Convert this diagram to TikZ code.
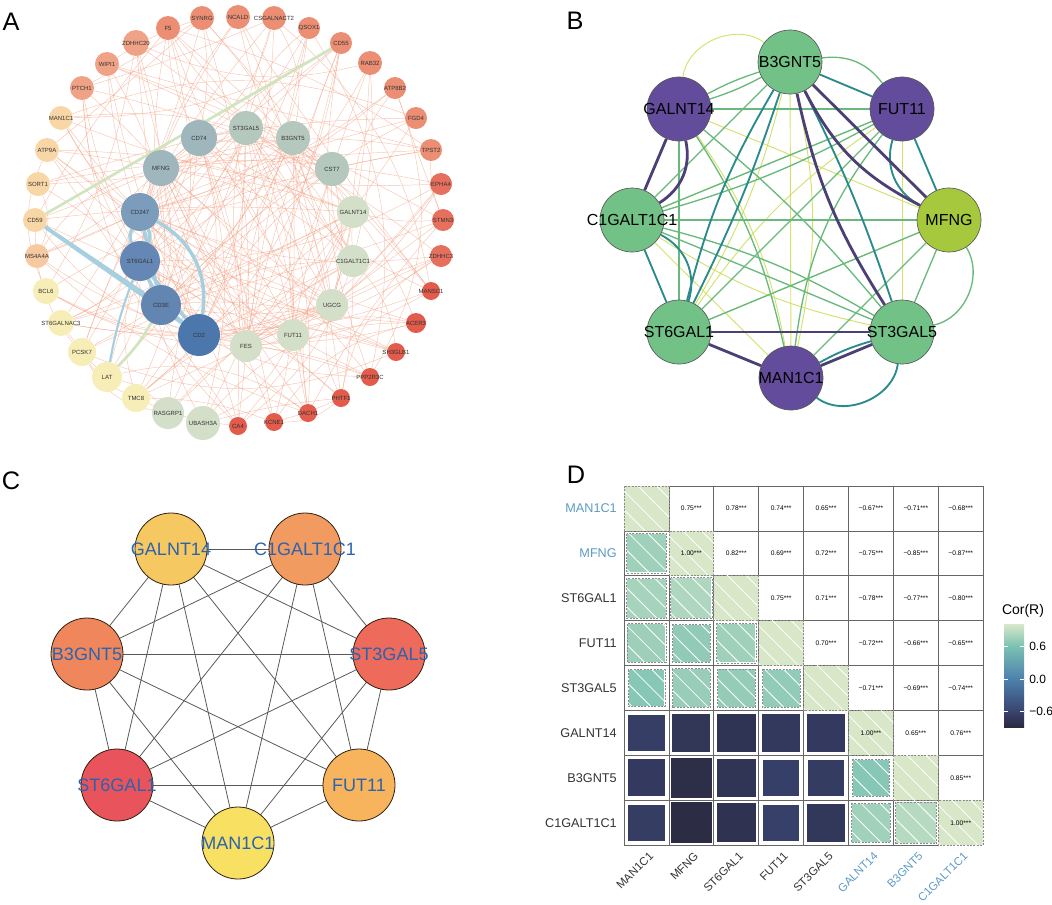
\documentclass[tikz,border=0pt]{standalone}
\usepackage{fontspec}
\setmainfont{Liberation Sans}
\usetikzlibrary{patterns.meta}
\pgfdeclarelayer{edgelayer}
\pgfsetlayers{edgelayer,main}
% panel A colours
\definecolor{oS}{HTML}{EC8E73}
\definecolor{oS2}{HTML}{F0A286}
\definecolor{oR}{HTML}{E6705D}
\definecolor{oR2}{HTML}{E25B4B}
\definecolor{oO}{HTML}{F8D6A5}
\definecolor{oO2}{HTML}{F6C9A0}
\definecolor{oY}{HTML}{F7EDB6}
\definecolor{sage}{HTML}{D3DFC8}
\definecolor{sage2}{HTML}{B4C8BD}
\definecolor{gblue}{HTML}{9EB6BC}
\definecolor{blA}{HTML}{7C9CBC}
\definecolor{blB}{HTML}{6587B5}
\definecolor{blC}{HTML}{6385B2}
\definecolor{blD}{HTML}{4C77AD}
\definecolor{oedgec}{HTML}{F2A184}
\definecolor{thickblue}{HTML}{A6CFDF}
\definecolor{thickgreen}{HTML}{CFE5BD}
% panel B colours
\definecolor{bgreen}{HTML}{72C287}
\definecolor{bpurple}{HTML}{634C9C}
\definecolor{blime}{HTML}{A6C83C}
\definecolor{ePc}{HTML}{4B3F75}
\definecolor{eTc}{HTML}{2A8A8C}
\definecolor{eGc}{HTML}{67BA7C}
\definecolor{eYc}{HTML}{D5E06A}
% panel C colours
\definecolor{cGA}{HTML}{F6C862}
\definecolor{cC1}{HTML}{F19B60}
\definecolor{cB3}{HTML}{F0875C}
\definecolor{cS3}{HTML}{EE6A5A}
\definecolor{cS6}{HTML}{E8535C}
\definecolor{cFU}{HTML}{F7B45C}
\definecolor{cMA}{HTML}{F8E062}
\definecolor{ctext}{HTML}{2B63AE}
% panel D colours
\definecolor{dpale}{HTML}{D9E7C9}
\definecolor{dposA}{HTML}{7CC2B2}
\definecolor{dposB}{HTML}{D9E8C9}
\definecolor{dnegA}{HTML}{394470}
\definecolor{dnegB}{HTML}{2A2940}
\definecolor{dzero}{HTML}{4D80AC}
\definecolor{dblue}{HTML}{5B9BC4}
\definecolor{dgray}{HTML}{333333}
\newcommand{\zb}[1]{\makebox[0pt]{#1}}
\tikzset{
  plabel/.style={font=\fontsize{19}{19}\selectfont, inner sep=0pt},
  anode/.style={circle, inner sep=0pt, text=black!80, font=\fontsize{4.5}{5}\selectfont},
  oedge/.style={draw=oedgec, line width=0.35pt, opacity=0.6},
  tblue/.style={draw=thickblue, line width=2.6pt},
  tgreen/.style={draw=thickgreen, line width=2pt},
  bnode/.style={circle, draw=black!65, line width=0.5pt, minimum size=48pt, inner sep=0pt, font=\fontsize{12}{13}\selectfont},
  eP/.style={draw=ePc, line width=2.1pt},
  eT/.style={draw=eTc, line width=1.4pt},
  eG/.style={draw=eGc, line width=1pt},
  eY/.style={draw=eYc, line width=0.7pt},
  cnode/.style={circle, draw=black!75!brown, line width=0.6pt, minimum size=54pt, inner sep=0pt, text=ctext, font=\fontsize{13.5}{14}\selectfont},
  cedge/.style={draw=black!65, line width=0.6pt},
  dcell/.style={draw=black!60, line width=0.5pt},
  ddash/.style={draw=black!45, line width=0.5pt, dash pattern=on 1.5pt off 1pt},
  dtxt/.style={font=\fontsize{5}{5}\selectfont, inner sep=0pt},
  dlab/.style={font=\fontsize{9.5}{10}\selectfont, inner sep=0pt},
}
\begin{document}
\begin{tikzpicture}[x=0.75pt,y=-0.75pt]
\useasboundingbox (0,0) rectangle (1052,904);

% ---------------- Panel labels ----------------
\node[plabel] (labA) at (11,22) {A};
\node[plabel] (labB) at (575,21) {B};
\node[plabel] (labC) at (11,481) {C};
\node[plabel] (labD) at (576,475) {D};

% ---------------- Panel A ----------------
\foreach \k/\nx/\ny/\nr/\nc/\nt in {
 1/202/18/12/oS/SYNRG, 2/238/17/12/oS/NCALD, 3/274/18/12/oS/CSGALNACT2, 4/309/28/11/oS/QSOX1,
 5/341/43/11/oS/CD55, 6/370/63/12/oS/RAB32, 7/395/88/11/oS/ATP8B2, 8/416/118/11/oS/FGD4,
 9/431/150/11/oS/TPST2, 10/441/184/11/oR/EPHA4, 11/443/220/11/oR/STMN3, 12/441/256/11/oR/ZDHHC3,
 13/431/291/9/oR2/MANSC1, 14/416/323/10/oR2/ACER3, 15/396/352/9/oR2/SH3GLB1, 16/370/377/9/oR2/PPP2R3C,
 17/341/398/9/oR2/PHTF1, 18/308/413/9/oR2/DACH1, 19/274/422/9/oR2/KCNE1, 20/238/426/9/oR2/CA4,
 21/203/423/17/sage/UBASH3A, 22/168/413/16/sage/RASGRP1, 23/136/398/14/oY/TMC8, 24/107/377/15/oY/LAT,
 25/82/352/14/oY/PCSK7, 26/61/323/13/oY/ST6GALNAC3, 27/46/291/13/oY/BCL6, 28/37/256/12/oO2/MS4A4A,
 29/35/220/12/oO/CD59, 30/38/184/12/oO/SORT1, 31/47/150/12/oO/ATP9A, 32/61/118/12/oO/MAN1C1,
 33/82/88/12/oS2/PTCH1, 34/107/64/12/oS2/WIPI1, 35/136/43/13/oS2/ZDHHC20, 36/168/28/12/oS/F5}{
  \node[anode, minimum size=1.5*\nr pt, fill=\nc] (o\k) at (\nx,\ny) {\zb{\nt}};
}
\foreach \k/\nx/\ny/\nr/\nc/\nt in {
 1/199/138/18/gblue/CD74, 2/246/128/17/sage2/ST3GAL5, 3/293/138/17/sage2/B3GNT5, 4/332/169/17/sage2/CST7,
 5/353/212/16/sage/GALNT14, 6/353/261/16/sage/C1GALT1C1, 7/332/305/16/sage/UGCG, 8/293/335/16/sage/FUT11,
 9/246/346/16/sage/FES, 10/199/335/21/blD/CD2, 11/161/305/20/blC/CD3E, 12/140/261/20/blB/ST6GAL1,
 13/140/212/19/blA/CD247, 14/161/168/18/gblue/MFNG}{
  \node[anode, minimum size=1.5*\nr pt, fill=\nc] (i\k) at (\nx,\ny) {\zb{\nt}};
}
\begin{pgfonlayer}{edgelayer}
\pgfmathsetseed{4242}
\foreach \k in {1,...,36}{
  \foreach \m in {1,2,3}{
    \pgfmathtruncatemacro\jj{random(1,14)}
    \pgfmathtruncatemacro\bb{random(0,40)-20}
    \draw[oedge] (o\k) to[bend left=\bb] (i\jj);
  }
  \foreach \m in {1,2}{
    \pgfmathtruncatemacro\jj{random(1,36)}
    \pgfmathtruncatemacro\bb{random(0,50)-25}
    \ifnum\jj=\k\else\draw[oedge] (o\k) to[bend left=\bb] (o\jj);\fi
  }
}
\foreach \p in {1,...,14}{
  \foreach \q in {1,...,14}{
    \ifnum\p<\q
      \pgfmathtruncatemacro\zz{random(0,2)}
      \pgfmathtruncatemacro\bb{random(0,30)-15}
      \ifnum\zz>0\draw[oedge] (i\p) to[bend left=\bb] (i\q);\fi
    \fi
  }
}
\draw[tgreen] (o5) -- (o29);
\draw[tgreen] (o24) to[bend right=8] (i11);
\draw[tblue] (i13) to[bend left=25] (i12);
\draw[tblue] (i13) to[bend right=25] (i12);
\draw[tblue] (i13) -- (i11);
\draw[tblue] (i13) to[bend left=35] (i10);
\draw[tblue] (i12) -- (i11);
\draw[tblue] (i12) -- (i10);
\draw[tblue] (i11) -- (i10);
\draw[tblue] (o29) -- (i11);
\draw[tblue] (o29) -- (i10);
\draw[tblue, line width=1.6pt] (o24) to[bend left=5] (i12);
\end{pgfonlayer}

% ---------------- Panel B ----------------
\node[bnode, fill=bgreen] (bB3) at (790,62) {\zb{B3GNT5}};
\node[bnode, fill=bpurple] (bGA) at (679,109) {\zb{GALNT14}};
\node[bnode, fill=bpurple] (bFU) at (902,109) {\zb{FUT11}};
\node[bnode, fill=bgreen] (bC1) at (632,220) {\zb{C1GALT1C1}};
\node[bnode, fill=blime] (bMF) at (949,220) {\zb{MFNG}};
\node[bnode, fill=bgreen] (bS6) at (679,332) {\zb{ST6GAL1}};
\node[bnode, fill=bgreen] (bS3) at (902,332) {\zb{ST3GAL5}};
\node[bnode, fill=bpurple] (bMA) at (791,378) {\zb{MAN1C1}};
\begin{pgfonlayer}{edgelayer}
\draw[eY] (bGA) to[bend left=60] (bB3);
\draw[eY] (bB3) -- (bMA);
\draw[eY] (bFU) -- (bS3);
\draw[eY] (bC1) -- (bMA);
\draw[eY] (bGA) -- (bMF);
\draw[eY] (bC1) -- (bFU);
\draw[eY] (bB3) to[bend left=12] (bMA);
\draw[eY] (bS6) -- (bMF);
\draw[eY] (bGA) to[bend left=12] (bMA);
\draw[eY] (bS6) to[bend right=8] (bB3);
\draw[eY] (bC1) to[bend right=10] (bS3);
\draw[eY] (bS6) to[bend left=10] (bFU);
\draw[eG] (bGA) to[bend left=5] (bB3);
\draw[eG] (bGA) to[bend right=5] (bB3);
\draw[eG] (bGA) -- (bFU);
\draw[eG] (bGA) -- (bS6);
\draw[eG] (bGA) to[bend left=5] (bS3);
\draw[eG] (bB3) to[bend left=30] (bFU);
\draw[eG] (bB3) -- (bC1);
\draw[eG] (bFU) -- (bC1);
\draw[eG] (bFU) to[bend left=6] (bC1);
\draw[eG] (bFU) -- (bS6);
\draw[eG] (bFU) to[bend right=15] (bMA);
\draw[eG] (bC1) -- (bS3);
\draw[eG] (bC1) to[bend left=8] (bS3);
\draw[eG] (bMF) -- (bS3);
\draw[eG] (bMF) to[bend left=55] (bS3);
\draw[eG] (bMF) -- (bS6);
\draw[eG] (bMF) -- (bMA);
\draw[eG] (bGA) to[bend left=10] (bMA);
\draw[eG] (bC1) -- (bMF);
\draw[eT] (bB3) -- (bFU);
\draw[eT] (bB3) to[bend right=8] (bS6);
\draw[eT] (bB3) to[bend left=4] (bS6);
\draw[eT] (bFU) -- (bMF);
\draw[eT] (bFU) to[bend right=40] (bMF);
\draw[eT] (bC1) -- (bS6);
\draw[eT] (bC1) to[bend left=40] (bS6);
\draw[eT] (bMA) to[bend right=60] (bS3);
\draw[eT] (bMA) to[bend left=6] (bS3);
\draw[eT] (bB3) to[bend left=4] (bS3);
\draw[eP] (bGA) -- (bC1);
\draw[eP] (bGA) to[bend left=35] (bC1);
\draw[eP] (bB3) -- (bMF);
\draw[eP] (bB3) to[bend right=18] (bMF);
\draw[eP] (bB3) to[bend right=10] (bS3);
\draw[eP] (bS6) -- (bS3);
\draw[eP] (bS6) -- (bMA);
\draw[eP] (bMA) -- (bS3);
\end{pgfonlayer}

% ---------------- Panel C ----------------
\node[cnode, fill=cGA] (cGAn) at (171,549) {\zb{GALNT14}};
\node[cnode, fill=cC1] (cC1n) at (305,549) {\zb{C1GALT1C1}};
\node[cnode, fill=cB3] (cB3n) at (87,654) {\zb{B3GNT5}};
\node[cnode, fill=cS3] (cS3n) at (389,654) {\zb{ST3GAL5}};
\node[cnode, fill=cS6] (cS6n) at (117,785) {\zb{ST6GAL1}};
\node[cnode, fill=cFU] (cFUn) at (359,785) {\zb{FUT11}};
\node[cnode, fill=cMA] (cMAn) at (238,843) {\zb{MAN1C1}};
\begin{pgfonlayer}{edgelayer}
\foreach \ea/\eb in {cGAn/cC1n, cGAn/cB3n, cGAn/cS3n, cGAn/cS6n, cGAn/cFUn, cGAn/cMAn,
  cC1n/cB3n, cC1n/cS3n, cC1n/cS6n, cC1n/cFUn, cC1n/cMAn,
  cB3n/cS3n, cB3n/cS6n, cB3n/cFUn, cB3n/cMAn,
  cS3n/cS6n, cS3n/cFUn, cS3n/cMAn, cS6n/cFUn, cS6n/cMAn, cFUn/cMAn}{
  \draw[cedge] (\ea.center) -- (\eb.center);
}
\end{pgfonlayer}

% ---------------- Panel D ----------------
\def\cw{44.9}
\foreach \i in {1,...,8}{
  \foreach \j in {1,...,8}{
    \pgfmathsetmacro\xa{624+(\j-1)*\cw}
    \pgfmathsetmacro\ya{486+(\i-1)*\cw}
    \ifnum\i=\j\else\draw[dcell, fill=white] (\xa,\ya) rectangle ++(\cw,\cw);\fi
  }
}
\foreach \i in {1,...,8}{
  \pgfmathsetmacro\xa{624+(\i-1)*\cw}
  \pgfmathsetmacro\ya{486+(\i-1)*\cw}
  \fill[dpale] (\xa,\ya) rectangle ++(\cw,\cw);
  \fill[pattern={Lines[angle=-45,distance=10pt,line width=0.6pt]}, pattern color=white] (\xa,\ya) rectangle ++(\cw,\cw);
  \draw[ddash] (\xa,\ya) rectangle ++(\cw,\cw);
}
\foreach \i/\j/\v in {2/1/0.75, 3/1/0.78, 3/2/0.82, 4/1/0.74, 4/2/0.69, 4/3/0.75,
  5/1/0.65, 5/2/0.72, 5/3/0.71, 5/4/0.70,
  6/1/-0.67, 6/2/-0.75, 6/3/-0.78, 6/4/-0.72, 6/5/-0.71,
  7/1/-0.71, 7/2/-0.85, 7/3/-0.77, 7/4/-0.66, 7/5/-0.69, 7/6/0.65,
  8/1/-0.68, 8/2/-0.87, 8/3/-0.80, 8/4/-0.65, 8/5/-0.74, 8/6/0.76, 8/7/0.85}{
  \pgfmathsetmacro\cx{624+(\j-0.5)*\cw}
  \pgfmathsetmacro\cy{486+(\i-0.5)*\cw}
  \pgfmathsetmacro\hs{0.5*\cw*min(1,0.5+0.55*abs(\v))-0.8}
  \ifdim\v pt>0pt
    \pgfmathtruncatemacro\tmix{max(0,min(100,(\v-0.6)/0.4*100))}
    \colorlet{cc}{dposB!\tmix!dposA}
    \fill[cc] (\cx-\hs,\cy-\hs) rectangle (\cx+\hs,\cy+\hs);
    \fill[pattern={Lines[angle=-45,distance=10pt,line width=0.6pt]}, pattern color=white] (\cx-\hs,\cy-\hs) rectangle (\cx+\hs,\cy+\hs);
    \draw[white, line width=0.9pt] (\cx-\hs,\cy-\hs) rectangle (\cx+\hs,\cy+\hs);
    \draw[ddash] (\cx-\hs,\cy-\hs) rectangle (\cx+\hs,\cy+\hs);
  \else
    \pgfmathtruncatemacro\tmix{max(0,min(100,(abs(\v)-0.6)/0.3*100))}
    \colorlet{cc}{dnegB!\tmix!dnegA}
    \fill[cc] (\cx-\hs,\cy-\hs) rectangle (\cx+\hs,\cy+\hs);
    \draw[white, line width=0.9pt] (\cx-\hs,\cy-\hs) rectangle (\cx+\hs,\cy+\hs);
  \fi
}
\foreach \i/\j/\s in {1/2/0.75***, 1/3/0.78***, 1/4/0.74***, 1/5/0.65***, 1/6/−0.67***, 1/7/−0.71***, 1/8/−0.68***,
  2/2/1.00***, 2/3/0.82***, 2/4/0.69***, 2/5/0.72***, 2/6/−0.75***, 2/7/−0.85***, 2/8/−0.87***,
  3/4/0.75***, 3/5/0.71***, 3/6/−0.78***, 3/7/−0.77***, 3/8/−0.80***,
  4/5/0.70***, 4/6/−0.72***, 4/7/−0.66***, 4/8/−0.65***,
  5/6/−0.71***, 5/7/−0.69***, 5/8/−0.74***,
  6/6/1.00***, 6/7/0.65***, 6/8/0.76***,
  7/8/0.85***, 8/8/1.00***}{
  \node[dtxt] (v\i\j) at ({624+(\j-0.5)*\cw},{486+(\i-0.5)*\cw}) {\s};
}
\foreach \i/\t/\cl in {1/MAN1C1/dblue, 2/MFNG/dblue, 3/ST6GAL1/dgray, 4/FUT11/dgray, 5/ST3GAL5/dgray,
  6/GALNT14/dgray, 7/B3GNT5/dgray, 8/C1GALT1C1/dgray}{
  \node[dlab, anchor=east, text=\cl] (row\i) at (617,{486+(\i-0.5)*\cw}) {\t};
}
\foreach \i/\t/\cl in {1/MAN1C1/dgray, 2/MFNG/dgray, 3/ST6GAL1/dgray, 4/FUT11/dgray, 5/ST3GAL5/dgray,
  6/GALNT14/dblue, 7/B3GNT5/dblue, 8/C1GALT1C1/dblue}{
  \node[dlab, font=\fontsize{8.6}{9}\selectfont, anchor=east, rotate=45, text=\cl] (col\i) at ({624+(\i-0.5)*\cw+5},854) {\t};
}
% legend
\node[font=\fontsize{10.5}{11}\selectfont, inner sep=0pt] (legt) at (1023,611) {Cor(R)};
\shade[top color=dposB, bottom color=dposA] (1004,624) rectangle (1024,646);
\shade[top color=dposA, bottom color=dzero] (1004,646) rectangle (1024,679);
\shade[top color=dzero, bottom color=dnegA] (1004,679) rectangle (1024,711);
\shade[top color=dnegA, bottom color=dnegB] (1004,711) rectangle (1024,727);
\foreach \yy/\tl in {646/0.6, 679/0.0, 711/−0.6}{
  \draw[white, line width=0.5pt] (1004,\yy) -- (1008,\yy);
  \draw[white, line width=0.5pt] (1020,\yy) -- (1024,\yy);
  \node[font=\fontsize{9}{9}\selectfont, anchor=west, inner sep=0pt] (tick\yy) at (1029,\yy) {\tl};
}
\end{tikzpicture}
\end{document}
